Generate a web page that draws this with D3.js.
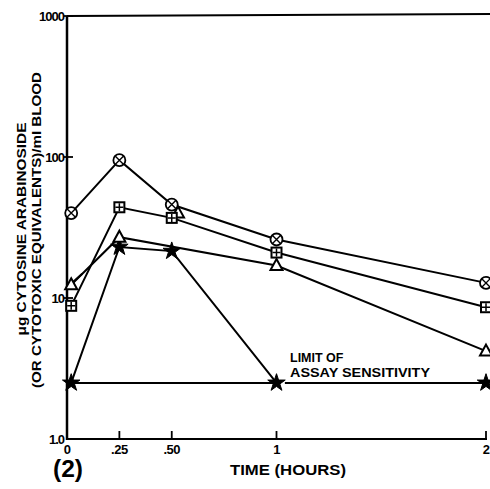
<!DOCTYPE html>
<html lang="en">
<head>
    <meta charset="UTF-8">
    <title>Cytosine arabinoside in blood</title>
    <script src="https://d3js.org/d3.v7.min.js"></script>
    <style>
        body {
            margin: 0;
            background-color: white;
        }

        svg text {
            font-family: "Liberation Sans", Arial, sans-serif;
            font-weight: bold;
            fill: black;
        }

        .tick_label {
            font-size: 13px;
        }

        .title {
            font-size: 13.5px;
        }
    </style>
</head>

<body>
<svg id="canvas" width="490" height="489"></svg>

<script>

    // hours after dose (first sample taken just after injection)
    let times = [0.02, 0.25, 0.5, 1, 2]
    let circleVals = [40, 95, 46, 26, 12.8]
    let squareVals = [8.8, 44, 37, 21, 8.6]
    let triangleTimes = [0.02, 0.25, 1, 2]
    let triangleVals = [12.4, 27, 17, 4.2]
    let triangleExtra = [{t: 0.53, v: 40}]
    let starVals = [2.5, 23, 21.5, 2.5, 2.5]
    let limitValue = 2.5
    let limitSegments = [[0, 1], [1.04, 2]]

    let xTicks = [0, 0.25, 0.5, 1, 2]
    let xTickLabels = ["0", ".25", ".50", "1", "2"]
    let yTicks = [1, 10, 100, 1000]
    let yTickLabels = ["1.0", "10", "100", "1000"]

    let svg = d3.select('svg')

    let x = d3.scaleLinear().domain([0, 2]).range([67, 486])
    let y = d3.scaleLog().domain([1, 1000]).range([439, 16])

    let line = d3.line()
        .x(d => x(d.t))
        .y(d => y(d.v))

    function pairs(ts, vs) {
        return ts.map((t, i) => ({t: t, v: vs[i]}))
    }

    let circles = pairs(times, circleVals)
    let squares = pairs(times, squareVals)
    let triangles = pairs(triangleTimes, triangleVals)
    let stars = pairs(times, starVals)

    // frame
    svg.append('line')
        .attr('x1', x(0)).attr('x2', 490)
        .attr('y1', y(1000)).attr('y2', y(1000) - 2)
        .attr('stroke', 'black').attr('stroke-width', 2)
    svg.append('line')
        .attr('x1', x(0)).attr('x2', x(0))
        .attr('y1', y(1000)).attr('y2', y(1) + 1)
        .attr('stroke', 'black').attr('stroke-width', 2.5)
    svg.append('line')
        .attr('x1', x(0)).attr('x2', x(2) + 1)
        .attr('y1', y(1)).attr('y2', y(1))
        .attr('stroke', 'black').attr('stroke-width', 2)

    // x ticks
    svg.selectAll('line.xtick')
        .data(xTicks.slice(1))
        .enter()
        .append('line')
        .attr('class', 'xtick')
        .attr('x1', d => x(d)).attr('x2', d => x(d))
        .attr('y1', y(1)).attr('y2', y(1) - 8)
        .attr('stroke', 'black').attr('stroke-width', 1.8)
    svg.selectAll('text.xlab')
        .data(xTicks)
        .enter()
        .append('text')
        .attr('class', 'tick_label xlab')
        .attr('x', d => x(d))
        .attr('y', 454)
        .attr('text-anchor', 'middle')
        .attr('letter-spacing', '-0.5px')
        .text((d, i) => xTickLabels[i])

    // y ticks
    svg.selectAll('line.ytick')
        .data(yTicks.slice(1))
        .enter()
        .append('line')
        .attr('class', 'ytick')
        .attr('x1', x(0) - 3).attr('x2', x(0) + 6)
        .attr('y1', d => y(d)).attr('y2', d => y(d))
        .attr('stroke', 'black').attr('stroke-width', 1.8)
    svg.selectAll('text.ylab')
        .data(yTicks)
        .enter()
        .append('text')
        .attr('class', 'tick_label ylab')
        .attr('x', x(0) - 3)
        .attr('y', d => y(d))
        .attr('dy', '0.36em')
        .attr('text-anchor', 'end')
        .attr('letter-spacing', '-1px')
        .text((d, i) => yTickLabels[i])

    // axis titles
    svg.append('text')
        .attr('class', 'title')
        .attr('transform', 'translate(26,229) rotate(-90)')
        .attr('text-anchor', 'middle')
        .attr('textLength', 213)
        .attr('lengthAdjust', 'spacingAndGlyphs')
        .text('μg CYTOSINE ARABINOSIDE')
    svg.append('text')
        .attr('class', 'title')
        .attr('transform', 'translate(41,230) rotate(-90)')
        .attr('text-anchor', 'middle')
        .attr('textLength', 316)
        .attr('lengthAdjust', 'spacingAndGlyphs')
        .text('(OR CYTOTOXIC EQUIVALENTS)/ml BLOOD')
    svg.append('text')
        .attr('class', 'title')
        .attr('x', 230).attr('y', 475)
        .attr('textLength', 116)
        .attr('lengthAdjust', 'spacingAndGlyphs')
        .style('font-size', '14px')
        .text('TIME (HOURS)')
    svg.append('text')
        .attr('x', 68).attr('y', 477)
        .attr('text-anchor', 'middle')
        .attr('textLength', 30)
        .attr('lengthAdjust', 'spacingAndGlyphs')
        .style('font-size', '23px')
        .text('(2)')

    // limit of assay sensitivity
    svg.selectAll('line.limit')
        .data(limitSegments)
        .enter()
        .append('line')
        .attr('class', 'limit')
        .attr('x1', d => x(d[0])).attr('x2', d => x(d[1]))
        .attr('y1', y(limitValue)).attr('y2', y(limitValue))
        .attr('stroke', 'black').attr('stroke-width', 2)
    svg.append('text')
        .attr('class', 'title')
        .attr('x', 290).attr('y', 362)
        .style('font-size', '12.5px')
        .text('LIMIT OF')
    svg.append('text')
        .attr('class', 'title')
        .attr('x', 290).attr('y', 377)
        .attr('textLength', 140)
        .attr('lengthAdjust', 'spacingAndGlyphs')
        .style('font-size', '12.5px')
        .text('ASSAY SENSITIVITY')

    // series lines
    let lineData = [circles, squares, triangles, stars.slice(0, 4)]
    svg.selectAll('path.series')
        .data(lineData)
        .enter()
        .append('path')
        .attr('class', 'series')
        .attr('d', line)
        .attr('fill', 'none')
        .attr('stroke', 'black')
        .attr('stroke-width', 2)

    // little pointer stroke at the first triangle
    svg.append('path')
        .attr('d', 'M' + (x(triangles[0].t) + 1) + ',' + (y(triangles[0].v) - 2)
            + 'l10,-9')
        .attr('stroke', 'black').attr('stroke-width', 2).attr('fill', 'none')

    // markers
    svg.selectAll('path.star')
        .data(stars)
        .enter()
        .append('path')
        .attr('class', 'star')
        .attr('transform', d => 'translate(' + x(d.t) + ',' + y(d.v) + ')')
        .attr('d', d3.symbol().type(d3.symbolStar).size(95))
        .attr('fill', 'black')
        .attr('stroke', 'black')
        .attr('stroke-width', 1)

    svg.selectAll('path.tri')
        .data(triangles.concat(triangleExtra))
        .enter()
        .append('path')
        .attr('class', 'tri')
        .attr('transform', d => 'translate(' + x(d.t) + ',' + y(d.v) + ')')
        .attr('d', 'M0,-6.5L6,4.5L-6,4.5Z')
        .attr('fill', 'white')
        .attr('stroke', 'black')
        .attr('stroke-width', 2)

    let sq = svg.selectAll('g.sq')
        .data(squares)
        .enter()
        .append('g')
        .attr('class', 'sq')
        .attr('transform', d => 'translate(' + x(d.t) + ',' + y(d.v) + ')')
    sq.append('rect')
        .attr('x', -5).attr('y', -5).attr('width', 10).attr('height', 10)
        .attr('fill', 'white').attr('stroke', 'black').attr('stroke-width', 2)
    sq.append('path')
        .attr('d', 'M-4,0H4M0,-4V4')
        .attr('stroke', 'black').attr('stroke-width', 1.5)

    let ci = svg.selectAll('g.ci')
        .data(circles)
        .enter()
        .append('g')
        .attr('class', 'ci')
        .attr('transform', d => 'translate(' + x(d.t) + ',' + y(d.v) + ')')
    ci.append('circle')
        .attr('r', 6)
        .attr('fill', 'white').attr('stroke', 'black').attr('stroke-width', 1.8)
    ci.append('path')
        .attr('d', 'M-4,-4L4,4M4,-4L-4,4')
        .attr('stroke', 'black').attr('stroke-width', 1.4)

</script>
</body>
</html>
